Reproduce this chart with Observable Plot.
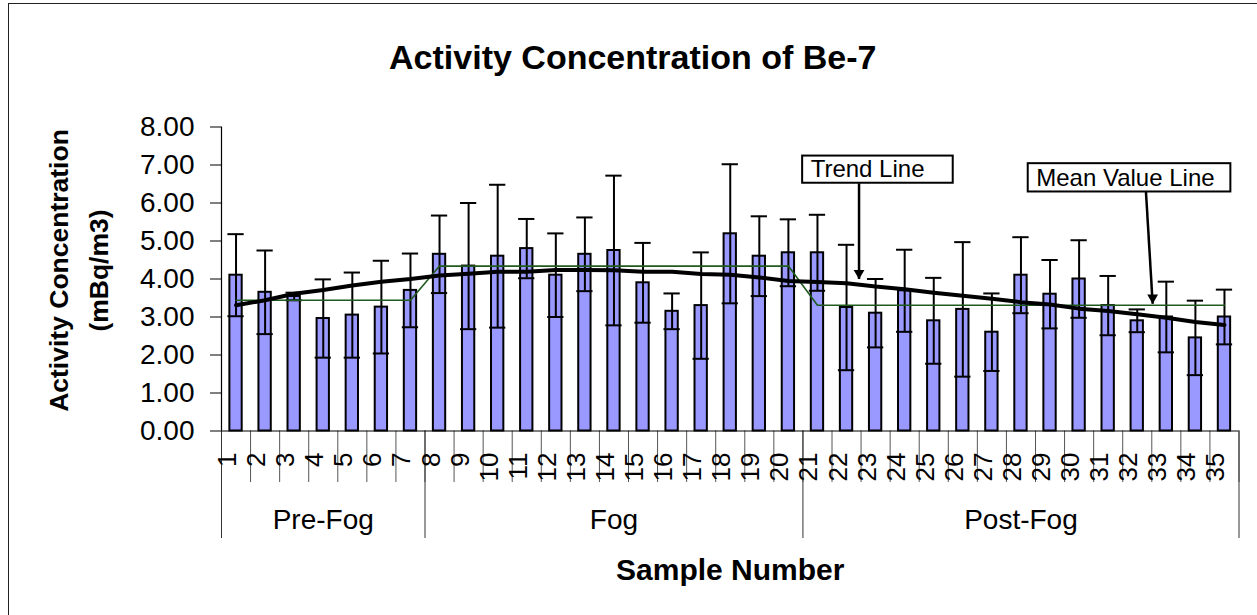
<!DOCTYPE html>
<html><head><meta charset="utf-8">
<script src="https://cdn.jsdelivr.net/npm/d3@7"></script>
<script src="https://cdn.jsdelivr.net/npm/@observablehq/plot@0.6"></script>
<style>
body{margin:0;background:#fff;}
#wrap{position:relative;width:1257px;height:615px;overflow:hidden;font-family:"Liberation Sans",Arial,sans-serif;background:#fff;}
#frame{position:absolute;left:8px;top:3px;width:1400px;height:800px;border-left:1.5px solid #222;border-top:1.5px solid #222;}
#chart{position:absolute;left:0;top:0;}
</style></head><body>
<div id="wrap"><div id="frame"></div><div id="chart"></div></div>
<script>
// ---- data ----
const samples = [1,2,3,4,5,6,7,8,9,10,11,12,13,14,15,16,17,18,19,20,21,22,23,24,25,26,27,28,29,30,31,32,33,34,35];
const values  = [4.10,3.65,3.54,2.96,3.05,3.26,3.70,4.65,4.34,4.60,4.80,4.10,4.65,4.75,3.90,3.15,3.30,5.19,4.60,4.69,
                 4.69,3.25,3.10,3.69,2.90,3.20,2.60,4.10,3.60,4.00,3.30,2.90,3.00,2.45,3.00];
const errors  = [1.08,1.10,0.10,1.03,1.12,1.22,0.97,1.02,1.66,1.88,0.78,1.10,0.97,1.97,1.05,0.47,1.40,1.83,1.05,0.88,
                 1.00,1.65,0.90,1.08,1.13,1.77,1.02,1.00,0.90,1.02,0.78,0.30,0.93,0.98,0.72];
const trend   = [3.31,3.44,3.61,3.71,3.83,3.93,4.00,4.09,4.14,4.19,4.19,4.24,4.24,4.23,4.19,4.19,4.13,4.11,4.04,3.95,
                 3.92,3.89,3.80,3.73,3.64,3.56,3.48,3.39,3.33,3.22,3.16,3.07,2.98,2.87,2.79];
const groupNames = ["Pre-Fog","Fog","Post-Fog"];
const groupStart = [1,8,21];
const groupEnd   = [7,20,35];
const groupMeans = [3.44,4.34,3.31];
const yTicks = [0,1,2,3,4,5,6,7,8];
const annLabels = ["Trend Line","Mean Value Line"];
const annX1 = [20.49,28.25], annX2 = [25.67,35.22], annY1 = [6.52,6.29], annY2 = [7.235,7.035];
const arrowFromX = [22.43,32.30], arrowFromY = [6.52,6.29], arrowToX = [22.43,32.53], arrowToY = [4.00,3.35];

// ---- tables built from the arrays ----
const groupIndex = s => groupNames.findIndex((g,j) => s >= groupStart[j] && s <= groupEnd[j]);
const rows = samples.map((s,i) => ({s, v: values[i], e: errors[i], t: trend[i], m: groupMeans[groupIndex(s)]}));
const groups = groupNames.map((g,j) => ({g, mid: (groupStart[j] + groupEnd[j]) / 2}));
const boundaries = [samples[0] - 0.5, ...samples.map(s => s + 0.5)];
const groupBounds = [groupStart[0] - 0.5, ...groupEnd.map(e => e + 0.5)];
const anns = annLabels.map((l,i) => ({l, x1: annX1[i], x2: annX2[i], y1: annY1[i], y2: annY2[i]}));
const arrows = annLabels.map((l,i) => ({x1: arrowFromX[i], y1: arrowFromY[i], x2: arrowToX[i], y2: arrowToY[i]}));

const FONT = '"Liberation Sans", Arial, sans-serif';
const chart = Plot.plot({
  width: 1257, height: 615,
  marginLeft: 221, marginRight: 18.5, marginTop: 126.5, marginBottom: 184.5,
  x: {type: "linear", domain: [0.5, 35.5]},
  y: {domain: [0, 8]},
  style: {fontFamily: FONT, background: "transparent", color: "#000", overflow: "visible"},
  marks: [
    Plot.axisY({ticks: yTicks, tickFormat: d => d.toFixed(2), tickSize: 11, tickPadding: 16, fontSize: 28, label: null, stroke: "#000"}),
    Plot.axisX({ticks: boundaries, tickSize: 51.5, tickFormat: () => "", label: null, stroke: "#555"}),
    Plot.axisX({ticks: groupBounds, tickSize: 107.5, tickFormat: () => "", label: null, stroke: "#333"}),
    Plot.ruleX([0.5], {y1: 0, y2: 8, stroke: "#000", strokeWidth: 1.2}),
    Plot.rectY(rows, {x1: d => d.s - 0.212, x2: d => d.s + 0.212, y: "v", fill: "#9999FF", stroke: "#000", strokeWidth: 2}),
    Plot.ruleY([0], {x1: 0.5, x2: 35.5, stroke: "#000", strokeWidth: 1.2}),
    Plot.ruleX(rows, {x: "s", y1: d => d.v - d.e, y2: d => d.v + d.e, stroke: "#000", strokeWidth: 2}),
    Plot.ruleY(rows, {y: d => d.v + d.e, x1: d => d.s - 0.28, x2: d => d.s + 0.28, stroke: "#000", strokeWidth: 2}),
    Plot.ruleY(rows, {y: d => d.v - d.e, x1: d => d.s - 0.28, x2: d => d.s + 0.28, stroke: "#000", strokeWidth: 2}),
    Plot.line(rows, {x: "s", y: "m", stroke: "#1f5a1f", strokeWidth: 1.6}),
    Plot.line(rows, {x: "s", y: "t", stroke: "#000", strokeWidth: 4}),
    Plot.text(rows, {x: "s", text: d => String(d.s), frameAnchor: "bottom", rotate: -90, textAnchor: "end", dy: 21.5, fontSize: 26}),
    Plot.text(groups, {x: "mid", text: "g", frameAnchor: "bottom", dy: 98, fontSize: 28}),
    Plot.text(["Sample Number"], {frameAnchor: "bottom", dy: 149, fontSize: 30, fontWeight: "bold"}),
    Plot.text(["Activity Concentration of Be-7"], {frameAnchor: "top", dx: -97.5, dy: -82, fontSize: 34, fontWeight: "bold"}),
    Plot.text(["Activity Concentration\n(mBq/m3)"], {frameAnchor: "left", textAnchor: "middle", dx: -146, dy: -8.5, rotate: -90, fontSize: 26.5, fontWeight: "bold", lineHeight: 1.5}),
    Plot.link(arrows, {x1: "x1", y1: "y1", x2: "x2", y2: "y2", stroke: "#000", strokeWidth: 2.5}),
    Plot.dot(arrows, {x: "x2", y: "y2", symbol: "triangle", r: 4, fill: "#000", stroke: "none", rotate: 180, dy: -6}),
    Plot.rect(anns, {x1: "x1", x2: "x2", y1: "y1", y2: "y2", fill: "#fff", stroke: "#000", strokeWidth: 2}),
    Plot.text(anns, {x: "x1", y: d => (d.y1 + d.y2) / 2, text: "l", textAnchor: "start", dx: 8, fontSize: 24})
  ]
});
document.getElementById("chart").appendChild(chart);
</script>
</body></html>
